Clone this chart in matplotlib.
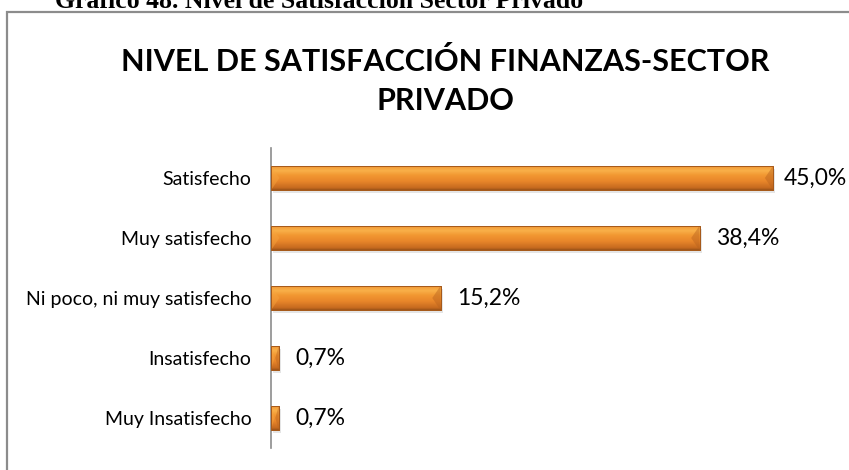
import matplotlib.pyplot as plt
import matplotlib.patches as ppatches
from matplotlib.colors import LinearSegmentedColormap
import numpy as np

# data (bottom to top)
categories = ["Muy Insatisfecho", "Insatisfecho", "Ni poco, ni muy satisfecho",
              "Muy satisfecho", "Satisfecho"]
values = [0.7, 0.7, 15.2, 38.4, 45.0]
value_labels = ["0,7%", "0,7%", "15,2%", "38,4%", "45,0%"]

chart_title = "NIVEL DE SATISFACCIÓN FINANZAS-SECTOR\nPRIVADO"
caption = "Gráfico 48. Nivel de Satisfacción Sector Privado"

W, H = 849, 470
fig = plt.figure(figsize=(W / 100, H / 100), dpi=100)

# outer chart frame (runs past right and bottom edges)
frame = ppatches.Rectangle((7 / W, -0.1), 1.2, 1.1 - 12 / H,
                           transform=fig.transFigure, fill=False,
                           edgecolor="#8c8c8c", linewidth=1.6)
fig.patches.append(frame)

# caption of the page, cut off at the top like in the scanned page
fig.text(55 / W, 1 - 7.5 / H, caption, family="Liberation Serif",
         fontweight="bold", fontsize=18.5, ha="left", va="baseline")

fig.text(445 / W, 1 - 47 / H, chart_title, family="Lato", fontweight="bold",
         fontsize=22, ha="center", va="top", linespacing=1.5)

ax = fig.add_axes([271 / W, 1 - 448 / H, 558 / W, 300 / H])
ax.set_xlim(0, 50)
ax.set_ylim(-0.5, 4.5)

bar_h = 0.41
y = np.arange(len(categories))

# soft shadow
ax.barh(y - 0.05, values, height=bar_h, left=0.2, color="#000000",
        alpha=0.10, zorder=1, linewidth=0)

bars = ax.barh(y, values, height=bar_h, color="#EE8E2C",
               edgecolor="#9C5418", linewidth=0.6, zorder=2)

grad = LinearSegmentedColormap.from_list(
    "bevel", [(0.0, "#9C5418"), (0.08, "#C66A1F"), (0.35, "#E8862A"),
              (0.6, "#F29832"), (0.78, "#F9B049"), (0.9, "#F5A23E"),
              (1.0, "#DE8028")])
gimg = np.linspace(0, 1, 64).reshape(-1, 1)
for b in bars:
    x0, y0 = b.get_x(), b.get_y()
    bw, bh = b.get_width(), b.get_height()
    im = ax.imshow(gimg, cmap=grad, aspect="auto", origin="lower",
                   extent=(x0, x0 + bw, y0, y0 + bh),
                   zorder=3, interpolation="bilinear")
    im.set_clip_path(b)
    # bevelled ends
    cap = min(0.75, bw * 0.45)
    ax.add_patch(ppatches.Polygon(
        [(x0 + bw, y0), (x0 + bw, y0 + bh), (x0 + bw - cap, y0 + bh * 0.5)],
        closed=True, color="#B8621E", alpha=0.45, zorder=4, linewidth=0))
    ax.add_patch(ppatches.Polygon(
        [(x0, y0), (x0, y0 + bh), (x0 + cap, y0 + bh * 0.5)],
        closed=True, color="#F7A640", alpha=0.45, zorder=4, linewidth=0))
    ax.add_patch(ppatches.Rectangle((x0, y0), bw, bh, fill=False,
                                    edgecolor="#A65A1B", linewidth=0.7,
                                    zorder=5))

for yi, v, lab in zip(y, values, value_labels):
    ax.text(min(v + 1.45, 45.9), yi, lab, family="Lato", fontsize=16.5,
            va="center", ha="left", color="#000000")

ax.set_yticks(y)
ax.set_yticklabels(categories, family="Lato", fontsize=14)
ax.tick_params(axis="y", length=0, pad=14)
ax.set_xticks([])
for s in ["top", "right", "bottom"]:
    ax.spines[s].set_visible(False)
ax.spines["left"].set_color("#8c8c8c")
ax.spines["left"].set_linewidth(1.2)
ax.patch.set_alpha(0)

fig.savefig("out.png", dpi=100)
